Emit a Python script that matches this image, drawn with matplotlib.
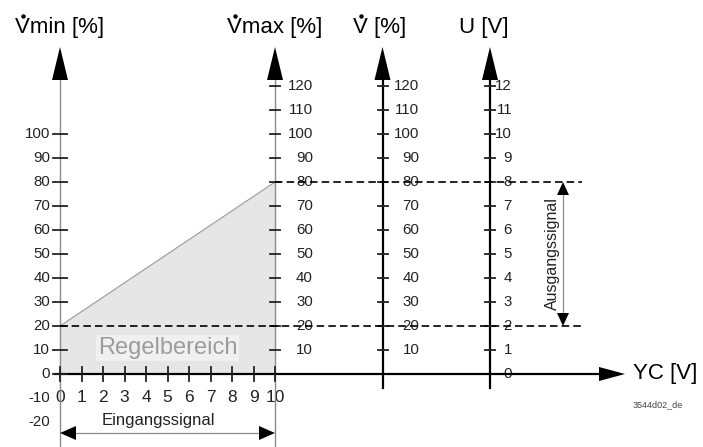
import matplotlib.pyplot as plt
from matplotlib.patches import Polygon

plt.rcParams['font.family'] = ['Liberation Sans', 'DejaVu Sans']

# scale values
yc_ticks = list(range(0, 11))
vmin_ticks = list(range(0, 101, 10))
vmin_neg_labels = [-10, -20]
vmax_ticks = list(range(10, 121, 10))
v_ticks = list(range(10, 121, 10))
u_ticks = list(range(0, 13))

# control range: YC 0..10 V maps to V 20..80 %
yc_range = [0, 10]
v_range = [20, 80]

# where the vertical scales sit on the YC axis
X_VMIN, X_VMAX, X_V, X_U = 0, 10, 15, 20

# pixels per data unit
SX = 21.5
SY = 2.4


def arrowhead(ax, x, y, direction, length=33, half=8, color='black'):
    # filled triangle, tip at (x, y), sizes in pixels
    if direction == 'up':
        pts = [(x, y), (x - half / SX, y - length / SY), (x + half / SX, y - length / SY)]
    elif direction == 'down':
        pts = [(x, y), (x - half / SX, y + length / SY), (x + half / SX, y + length / SY)]
    elif direction == 'right':
        pts = [(x, y), (x - length / SX, y - half / SY), (x - length / SX, y + half / SY)]
    else:
        pts = [(x, y), (x + length / SX, y - half / SY), (x + length / SX, y + half / SY)]
    ax.add_patch(Polygon(pts, closed=True, color=color, lw=0, zorder=6))


def dotted_title(ax, x, y, label, size):
    # title with a dot over the leading V (flow rate)
    t = ax.text(x, y, label, fontsize=size, ha='center', va='center')
    if label.startswith('V'):
        renderer = ax.figure.canvas.get_renderer()
        bb = t.get_window_extent(renderer)
        em = size * 100 / 72
        px = bb.x0 + 0.36 * em
        py = bb.y1 + 0.08 * em
        dx, dy = ax.transData.inverted().transform((px, py))
        ax.plot(dx, dy, 'o', color='black', ms=3.2, mew=0)


fig = plt.figure(figsize=(7.03, 4.47), dpi=100)
ax = fig.add_axes([0, 0, 1, 1])
ax.set_xlim(-60 / SX, (703 - 60) / SX)
ax.set_ylim(-(447 - 374) / SY, 374 / SY)
ax.axis('off')

top = (374 - 80) / SY      # arrow base of the vertical scales
tip = (374 - 47) / SY
bottom = -(447 - 374) / SY

# control range area
ax.fill([yc_range[0], yc_range[0], yc_range[1], yc_range[1]],
        [0, v_range[0], v_range[1], 0], color='#e6e6e6', lw=0, zorder=1)
ax.plot(yc_range, v_range, color='#9a9a9a', lw=0.8, zorder=2)
ax.text(5, 10.8, 'Regelbereich', fontsize=17, color='#9c9c9c', ha='center', va='center',
        zorder=2, bbox=dict(facecolor='#f0f0f0', edgecolor='none', pad=1.5))

# vertical scales
for xa, col, lw, y0 in [(X_VMIN, '#8c8c8c', 1.0, bottom), (X_VMAX, '#8c8c8c', 1.0, bottom),
                        (X_V, 'black', 1.6, -6), (X_U, 'black', 1.6, -6)]:
    ax.plot([xa, xa], [y0, top], color=col, lw=lw, zorder=4)
    arrowhead(ax, xa, tip, 'up')

# YC axis
ax.plot([-5 / SX, 540 / SX], [0, 0], color='black', lw=1.6, zorder=4)
arrowhead(ax, (625 - 60) / SX, 0, 'right', length=26, half=7)

tick_kw = dict(fontsize=10.8, color='#222222', zorder=3)

# Vmin scale
for v in vmin_ticks:
    ax.plot([X_VMIN - 7 / SX, X_VMIN + 7 / SX], [v, v], color='#222222', lw=1.3, zorder=5)
    ax.text(X_VMIN - 10 / SX, v, str(v), ha='right', va='center', **tick_kw)
for v in vmin_neg_labels:
    ax.text(X_VMIN - 10 / SX, v, str(v), ha='right', va='center', **tick_kw)

# Vmax scale
for v in vmax_ticks:
    ax.plot([X_VMAX - 5 / SX, X_VMAX + 5 / SX], [v, v], color='#222222', lw=1.3, zorder=5)
    ax.text(X_VMAX + 38 / SX, v, str(v), ha='right', va='center', **tick_kw)

# V scale
for v in v_ticks:
    ax.plot([X_V - 5 / SX, X_V + 5 / SX], [v, v], color='#222222', lw=1.3, zorder=5)
    ax.text(X_V + 37 / SX, v, str(v), ha='right', va='center', **tick_kw)

# U scale
for u in u_ticks:
    if u > 0:
        ax.plot([X_U - 5 / SX, X_U + 5 / SX], [u * 10, u * 10], color='#222222', lw=1.3, zorder=5)
    ax.text(X_U + 22 / SX, u * 10, str(u), ha='right', va='center', **tick_kw)

# YC ticks
for t in yc_ticks:
    ax.plot([t, t], [-7 / SY, 7 / SY], color='#222222', lw=1.3, zorder=5)
    ax.text(t, -10, str(t), ha='center', va='center', fontsize=12.5, color='#222222', zorder=3)

# dashed limits
dash = (0, (4.5, 2.5))
ax.plot([yc_range[1], 24.3], [v_range[1], v_range[1]], color='black', lw=1.2, ls=dash, zorder=5)
ax.plot([yc_range[0], 24.3], [v_range[0], v_range[0]], color='black', lw=1.2, ls=dash, zorder=5)

# output signal arrow
xo = (563 - 60) / SX
ax.plot([xo, xo], [v_range[0] + 4, v_range[1] - 4], color='#8c8c8c', lw=0.9, zorder=5)
arrowhead(ax, xo, v_range[1], 'up', length=13, half=6)
arrowhead(ax, xo, v_range[0], 'down', length=13, half=6)
ax.text((552 - 60) / SX, sum(v_range) / 2, 'Ausgangssignal', rotation=90, fontsize=11.5,
        ha='center', va='center', color='#222222', zorder=5)

# input signal arrow
yi = -(433 - 374) / SY
ax.plot([yc_range[0] + 0.5, yc_range[1] - 0.5], [yi, yi], color='#8c8c8c', lw=0.9, zorder=5)
arrowhead(ax, yc_range[0], yi, 'left', length=16, half=7)
arrowhead(ax, yc_range[1], yi, 'right', length=16, half=7)
ax.text((158 - 60) / SX, -(421 - 374) / SY, 'Eingangssignal', fontsize=12, ha='center',
        va='center', color='#222222', zorder=5)

# titles
title_y = (374 - 28) / SY
dotted_title(ax, X_VMIN, title_y, 'Vmin [%]', 16)
dotted_title(ax, X_VMAX, title_y, 'Vmax [%]', 16)
dotted_title(ax, X_V - 0.15, title_y, 'V [%]', 16)
dotted_title(ax, X_U - 0.3, title_y, 'U [V]', 16)
ax.text((633 - 60) / SX, 0, 'YC [V]', fontsize=16, ha='left', va='center')
ax.text((633 - 60) / SX, -(405 - 374) / SY, '3544d02_de', fontsize=6.5, ha='left',
        va='center', color='#444444')

fig.savefig('out.png', dpi=100)
